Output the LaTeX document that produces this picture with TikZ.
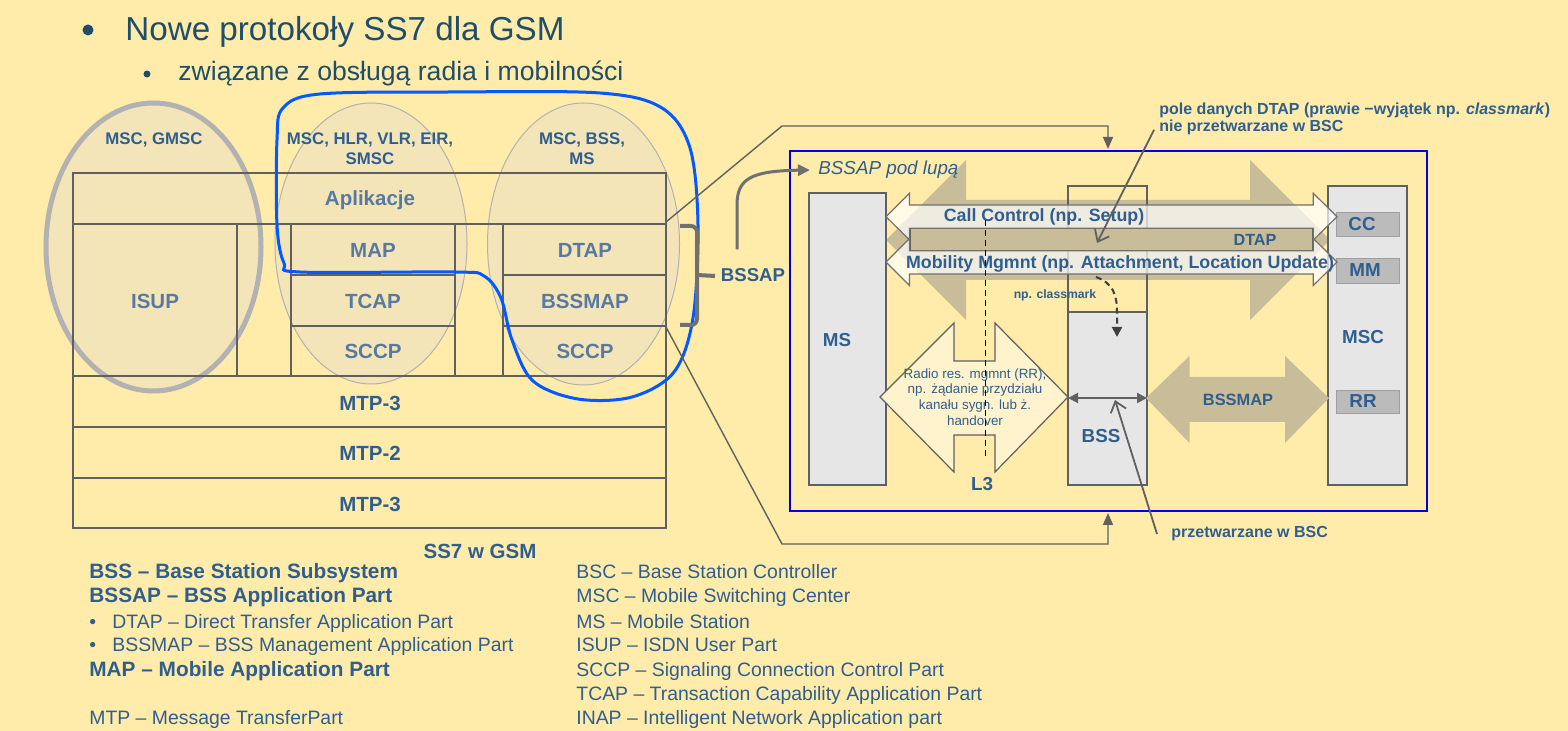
\documentclass[tikz,border=0pt]{standalone}
\usepackage{fontspec}
\setmainfont{Liberation Sans}
\usetikzlibrary{arrows.meta}

\definecolor{bgyellow}{RGB}{255,235,170}
\definecolor{txtblue}{RGB}{47,94,143}
\definecolor{cellblue}{RGB}{88,122,162}
\definecolor{titleblue}{RGB}{31,78,107}
\definecolor{linegrey}{RGB}{96,96,96}
\definecolor{ovalfill}{RGB}{244,229,184}
\definecolor{ovalgrey}{RGB}{178,178,178}
\definecolor{ringblue}{RGB}{0,90,255}
\definecolor{boxgrey}{RGB}{230,230,230}
\definecolor{tagfill}{RGB}{187,187,187}
\definecolor{tanfill}{RGB}{201,189,153}
\definecolor{creamfill}{RGB}{255,243,205}

\newcommand{\fsz}[2]{\fontsize{#1}{#2}\selectfont}

\begin{document}
\begin{tikzpicture}[
    x=0.5pt, y=-0.5pt,
    stackline/.style={draw=linegrey, line width=0.65pt},
    celltxt/.style={font={\fsz{10.25}{12}\bfseries}, text=cellblue},
    layertxt/.style={font={\fsz{10.25}{12}\bfseries}, text=txtblue},
    hosttxt/.style={font={\fsz{8.4}{10}\bfseries}, text=txtblue, align=center},
    ovalshape/.style={fill=ovalfill, draw=ovalgrey, line width=0.5pt},
    boxtxt/.style={font={\fsz{9.4}{11}\bfseries}, text=txtblue},
    unitbox/.style={fill=boxgrey, draw=linegrey, line width=0.6pt},
    tagbox/.style={fill=tagfill, draw=tagfill!85!black, line width=0.4pt},
    lightarrow/.style={fill=white, fill opacity=0.7, draw=linegrey!90, line width=0.6pt},
    link/.style={draw=linegrey, line width=0.7pt, -{Triangle[length=6pt,width=5pt]}},
    pointer/.style={draw=linegrey, line width=0.9pt, -{Straight Barb[length=5pt,width=8pt]}},
    notetxt/.style={font={\fsz{8}{9.5}\bfseries}, text=txtblue, inner sep=0pt},
    legend/.style={font={\fsz{9.7}{12}}, text=txtblue, anchor=base west, inner sep=0pt},
    legendbf/.style={legend, font={\fsz{10.4}{12}\bfseries}},
]

    \useasboundingbox (0,0) rectangle (1568,731);
    \fill[bgyellow] (0,0) rectangle (1568,731);

    % Title
    \fill[titleblue] (88,30) circle (5.5);
    \node[anchor=base west, inner sep=0pt, text=titleblue, font={\fsz{16.6}{20}}] (title) at (125,41) {Nowe protokoły SS7 dla GSM};
    \fill[titleblue] (147,74) circle (3.5);
    \node[anchor=base west, inner sep=0pt, text=titleblue, font={\fsz{13.3}{16}}] (subtitle) at (178,81) {związane z obsługą radia i mobilności};

    % Draw ovals behind the stack
    \draw[ovalshape, draw=ovalgrey, line width=2.5pt] (153.5,247) ellipse [x radius=107.5, y radius=144];
    \draw[ovalshape] (371,243.5) ellipse [x radius=96, y radius=140.5];
    \draw[ovalshape] (583.5,244) ellipse [x radius=96, y radius=141];

    % Draw SS7 stack
    \draw[stackline] (73,173) rectangle (666,528);
    \draw[stackline] (73,224) -- (666,224) (73,376) -- (666,376)
                     (73,427) -- (666,427) (73,478) -- (666,478);
    \draw[stackline] (237,224) -- (237,376) (291,224) -- (291,376)
                     (455,224) -- (455,376) (503,224) -- (503,376);
    \draw[stackline] (291,275) -- (455,275) (291,326) -- (455,326)
                     (503,275) -- (666,275) (503,326) -- (666,326);

    \node[celltxt] (aplikacje) at (370,200) {Aplikacje};
    \node[celltxt] (isup) at (155,301) {ISUP};
    \node[celltxt] (map) at (373,250) {MAP};
    \node[celltxt] (tcap) at (373,301) {TCAP};
    \node[celltxt] (sccpA) at (373,351) {SCCP};
    \node[celltxt] (dtap) at (585,250) {DTAP};
    \node[celltxt] (bssmap) at (585,301) {BSSMAP};
    \node[celltxt] (sccpB) at (585,351) {SCCP};
    \node[layertxt] (mtpC) at (370,403) {MTP-3};
    \node[layertxt] (mtpB) at (370,453) {MTP-2};
    \node[layertxt] (mtpA) at (370,504) {MTP-3};
    \node[layertxt] (ss7) at (480,551) {SS7 w GSM};

    \node[hosttxt] (hostA) at (154,140) {MSC, GMSC};
    \node[hosttxt] (hostB) at (370,149) {MSC, HLR, VLR, EIR,\\SMSC};
    \node[hosttxt] (hostC) at (582,149) {MSC, BSS,\\MS};

    % Blue ring round MAP and BSSAP
    \draw[ringblue, line width=1.5pt] plot[smooth cycle, tension=0.55] coordinates {
        (283,108) (320,94) (450,92) (600,93) (662,108) (690,148) (698,225)
        (693,318) (674,372) (632,397) (578,399) (533,381) (512,340)
        (501,298) (484,276) (455,272) (300,272) (284,263) (277,225) (277,140)};

    % Draw BSSAP bracket
    \draw[linegrey!90, line width=2pt, rounded corners=3pt] (680,226) -- (697,226) -- (697,325) -- (680,325);
    \draw[linegrey!90, line width=2pt] (697,275) -- (715,276);
    \node[font={\fsz{9.3}{11}\bfseries}, text=txtblue] (lblBSSAP) at (753,275) {BSSAP};

    % Draw links to the magnified view
    \coordinate (stackTop) at (666,222);
    \coordinate (stackBot) at (666,327);
    \coordinate (lupaTop) at (1108,149);
    \coordinate (lupaBot) at (1108,513);
    \draw[link] (stackTop) -- (782,126) -| (lupaTop);
    \draw[link] (stackBot) -- (782,544) -| (lupaBot);

    % Magnified view
    \draw[blue!90!black, line width=0.6pt] (790,151) rectangle (1427,511);

    % Big DTAP arrow
    \fill[tanfill] (886,240) -- (966,160) -- (966,200) -- (1250,200) -- (1250,160) -- (1330,240)
        -- (1250,320) -- (1250,280) -- (966,280) -- (966,320) -- cycle;

    \node[anchor=west, inner sep=0pt, text=txtblue, font={\fsz{9.4}{11}\itshape}] (lblLupa) at (818,170) {BSSAP pod lupą};
    \draw[linegrey!90, line width=1.5pt, -{Triangle[length=6pt,width=5.5pt]}]
        ([xshift=-8pt,yshift=6pt]lblBSSAP.north) -- (737,205)
        .. controls (737,178) and (752,171) .. ([xshift=-4pt]lblLupa.west);

    % Draw MS, BSS and MSC
    \draw[unitbox] (809,193) rectangle (886,485);
    \fill[boxgrey] (1068,312) rectangle (1147,485);
    \draw[stackline] (1068,186) rectangle (1147,485) (1068,312) -- (1147,312);
    \draw[unitbox] (1328,186) rectangle (1407,485);
    \draw[tagbox] (1336,212) rectangle (1399,236);
    \draw[tagbox] (1336,258) rectangle (1399,283);
    \draw[tagbox] (1336,390) rectangle (1399,413);

    % DTAP bar and CC / MM arrows
    \draw[fill=tanfill, draw=linegrey, line width=0.6pt] (910,228.3) rectangle (1313,250.7);
    \draw[lightarrow] (886,216.7) -- (909.5,193.3) -- (909.5,205) -- (1313.3,205) -- (1313.3,193.3) -- (1337,216.7)
        -- (1313.3,240) -- (1313.3,228.3) -- (909.5,228.3) -- (909.5,240) -- cycle;
    \draw[lightarrow] (886,262) -- (909.5,238.5) -- (909.5,250.7) -- (1313.3,250.7) -- (1313.3,238.5) -- (1337,262)
        -- (1313.3,285.5) -- (1313.3,274) -- (909.5,274) -- (909.5,285.5) -- cycle;

    \node[font={\fsz{8.9}{10}\bfseries}, text=txtblue] (lblCC) at (1044,217) {Call Control (np. Setup)};
    \node[font={\fsz{8.1}{10}\bfseries}, text=txtblue] (lblDTAP) at (1255,240) {DTAP};
    \node[font={\fsz{8.9}{10}\bfseries}, text=txtblue] (lblMM) at (1120,264) {Mobility Mgmnt (np. Attachment, Location Update)};
    \node[font={\fsz{6.1}{8}\bfseries}, text=txtblue] (lblClass) at (1055,295) {np. classmark};

    \node[boxtxt] (ms) at (837,340) {MS};
    \node[boxtxt] (bss) at (1101,436) {BSS};
    \node[boxtxt] (msc) at (1363,337) {MSC};
    \node[boxtxt] (cc) at (1362,224) {CC};
    \node[boxtxt] (mm) at (1365,270) {MM};
    \node[boxtxt] (rr) at (1363,401) {RR};

    % RR arrow (L3)
    \draw[fill=creamfill, draw=linegrey, line width=0.6pt] (880,397) -- (954,323) -- (954,361) -- (995,361) -- (995,323)
        -- (1068,397) -- (995,472) -- (995,435) -- (954,435) -- (954,472) -- cycle;
    \node[align=center, font={\fsz{6.7}{7.9}}, text=txtblue] (lblRR) at (975,397)
        {Radio res. mgmnt (RR),\\np. żądanie przydziału\\kanału sygn. lub ż.\\handover};
    \node[boxtxt] (l3) at (982,484) {L3};

    % BSSMAP arrow
    \fill[tanfill] (1146,398) -- (1189.5,356) -- (1189.5,377) -- (1285,377) -- (1285,356) -- (1329,398)
        -- (1285,443) -- (1285,422) -- (1189.5,422) -- (1189.5,443) -- cycle;
    \node[font={\fsz{8.2}{10}\bfseries}, text=txtblue] (lblBSSMAP) at (1238,400) {BSSMAP};

    \coordinate (bssW) at (1068,398);
    \coordinate (bssE) at (1147,398);
    \draw[linegrey, line width=1pt, {Triangle[length=5pt,width=5pt]}-{Triangle[length=5pt,width=5pt]}] (bssW) -- (bssE);

    % Dashed marks
    \draw[black, line width=0.5pt, dash pattern=on 3pt off 2pt] (985,220) -- (985,458);
    \coordinate (cmStart) at (1096,277);
    \coordinate (cmEnd) at (1117,337);
    \draw[black!75, line width=1pt, dash pattern=on 3pt off 2pt, -{Triangle[length=5pt,width=5pt]}]
        (cmStart) .. controls (1113,283) and (1117,295) .. (1117,312) -- (cmEnd);

    % Notes
    \node[notetxt, anchor=base west] (noteA) at (1159,115) {pole danych DTAP (prawie −wyjątek np. \textit{classmark})};
    \node[notetxt, anchor=base west] (noteB) at (1159,132) {nie przetwarzane w BSC};
    \coordinate (dtapTip) at (1097,243);
    \draw[pointer] ([xshift=-2.5pt,yshift=-1pt]noteB.west) -- (dtapTip);

    \node[notetxt, anchor=west] (lblBSC) at (1171,534) {przetwarzane w BSC};
    \coordinate (bscTip) at (1115,400);
    \draw[pointer] ([xshift=-7pt]lblBSC.west) -- (bscTip);

    % Legend
    \node[legendbf] (lgA) at (89,579) {BSS – Base Station Subsystem};
    \node[legendbf] (lgB) at (89,603) {BSSAP – BSS Application Part};
    \node[legend] (lgC) at (89,628) {\makebox[11.5pt][l]{•}DTAP – Direct Transfer Application Part};
    \node[legend] (lgD) at (89,651.5) {\makebox[11.5pt][l]{•}BSSMAP – BSS Management Application Part};
    \node[legendbf] (lgE) at (89,676.5) {MAP – Mobile Application Part};
    \node[legend] (lgF) at (89,724) {MTP – Message TransferPart};

    \node[legend] (lgG) at (576,579) {BSC – Base Station Controller};
    \node[legend] (lgH) at (576,603) {MSC – Mobile Switching Center};
    \node[legend] (lgI) at (576,628) {MS – Mobile Station};
    \node[legend] (lgJ) at (576,651.5) {ISUP – ISDN User Part};
    \node[legend] (lgK) at (576,676.5) {SCCP – Signaling Connection Control Part};
    \node[legend] (lgL) at (576,700) {TCAP – Transaction Capability Application Part};
    \node[legend] (lgM) at (576,724) {INAP – Intelligent Network Application part};

\end{tikzpicture}
\end{document}
